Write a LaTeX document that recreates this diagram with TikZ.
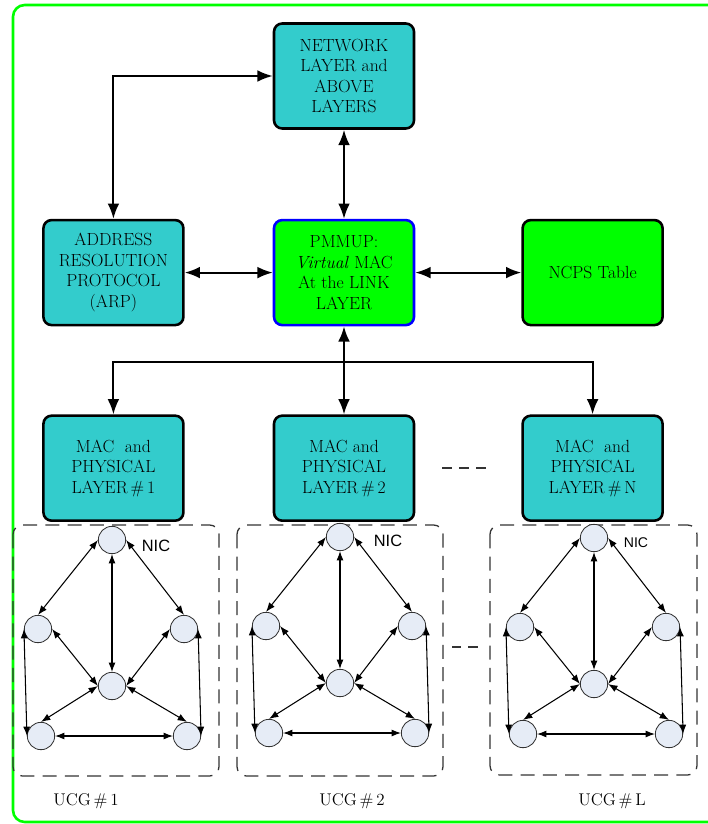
\documentclass[tikz,border=0pt]{standalone}
\usepackage{fontspec}
\newfontfamily\nicfont{Liberation Sans}
\usepackage{tikz}
\usetikzlibrary{arrows.meta,positioning}
\usepackage{xcolor}
\definecolor{pmteal}{RGB}{51,204,204}
\definecolor{pmgreen}{RGB}{0,255,0}
\definecolor{pmblue}{RGB}{0,0,255}
\definecolor{pmnode}{RGB}{230,236,246}
\definecolor{pmdash}{RGB}{51,51,51}
\tikzstyle{arrow} = [line width=1.7pt, {Latex[length=13pt,width=10pt]}-{Latex[length=13pt,width=10pt]}]
\tikzstyle{busarrow} = [line width=1.7pt, -{Latex[length=13pt,width=10pt]}]
\tikzstyle{layerbox} = [rectangle, rounded corners=7pt, minimum width=4.2cm, minimum height=3.15cm, align=center, draw=black, fill=pmteal, line width=2.2pt, font=\fontsize{15}{17.6}\selectfont]
\tikzstyle{nicnode} = [circle, minimum size=0.82cm, inner sep=0pt, draw=black!80, fill=pmnode, line width=0.7pt]
\tikzstyle{link} = [line width=0.9pt, {Latex[length=8pt,width=6pt]}-{Latex[length=8pt,width=6pt]}]
\tikzstyle{ucgframe} = [pmdash, line width=1.1pt, dash pattern=on 12pt off 7pt, rounded corners=8pt]
\tikzstyle{ucglabel} = [font=\fontsize{14.5}{17}\selectfont]

\begin{document}
\begin{tikzpicture}[x=0.03cm, y=-0.03cm]
\useasboundingbox (0,0) rectangle (707,824);
\draw[pmgreen, line width=2.2pt, rounded corners=10pt] (13,5) rectangle (740,822);

% Upper layers
\node (network) [layerbox] at (344,76) {NETWORK\\LAYER and\\ABOVE\\LAYERS};
\node (pmmup) [layerbox, below=2.67cm of network, fill=pmgreen, draw=pmblue] {PMMUP:\\\textit{Virtual} MAC\\At the LINK\\LAYER};
\node (arp) [layerbox, left=2.64cm of pmmup] {ADDRESS\\RESOLUTION\\PROTOCOL\\(ARP)};
\node (ncps) [layerbox, right=3.18cm of pmmup, fill=pmgreen] {NCPS Table};

% MAC and physical layers
\node (mac2) [layerbox, below=2.64cm of pmmup] {MAC and\\PHYSICAL\\LAYER\,\#\,2};
\node (mac1) [layerbox, left=2.64cm of mac2] {MAC\ \ and\\PHYSICAL\\LAYER\,\#\,1};
\node (macn) [layerbox, right=3.18cm of mac2] {MAC\ \ and\\PHYSICAL\\LAYER\,\#\,N};

\draw[arrow] (arp.north) |- (network.west);
\draw[arrow] (network) -- (pmmup);
\draw[arrow] (arp) -- (pmmup);
\draw[arrow] (pmmup) -- (ncps);
\draw[arrow] (pmmup) -- (mac2);
\coordinate (bus) at (344,362);
\draw[busarrow] (bus) -| (mac1);
\draw[busarrow] (bus) -| (macn);
\draw[pmdash, line width=1.4pt, dash pattern=on 8.5pt off 6pt] ([xshift=0.81cm]mac2.east) -- ([xshift=-1.02cm]macn.west);

% UCG frames
\draw[ucgframe] (13,525) rectangle (219,776);
\draw[ucgframe] (237,525) rectangle (443,776);
\draw[ucgframe] (490,525) rectangle (697,775);
\draw[pmdash, line width=1.2pt, dash pattern=on 8pt off 6pt] (452,647) -- (478,647);

% NICs of each UCG
\foreach \g/\gx/\gy/\nicx/\nicy/\nicsize in {a/0/0/156/546/14, b/228/-3/388/541/14, c/482/-2/636/543/12}{
  \begin{scope}[shift={(\gx,\gy)}]
    \node (\g-top) [nicnode] at (112,540) {};
    \node (\g-left) [nicnode] at (38,629) {};
    \node (\g-right) [nicnode] at (184,629) {};
    \node (\g-mid) [nicnode] at (112,686) {};
    \node (\g-bl) [nicnode] at (41,736) {};
    \node (\g-br) [nicnode] at (187,736) {};
  \end{scope}
  \node (\g-nic) [font=\nicfont\fontsize{\nicsize}{\nicsize}\selectfont] at (\nicx,\nicy) {NIC};
  \draw[link] (\g-top.west) -- (\g-left.north);
  \draw[link] (\g-top.east) -- (\g-right.north);
  \draw[link] (\g-top) -- (\g-mid);
  \draw[link] (\g-left.east) -- (\g-mid.west);
  \draw[link] (\g-right.west) -- (\g-mid.east);
  \draw[link] (\g-mid.west) -- (\g-bl.north);
  \draw[link] (\g-mid.east) -- (\g-br.north);
  \draw[link] (\g-bl) -- (\g-br);
  \draw[link] (\g-left.west) -- (\g-bl.west);
  \draw[link] (\g-right.east) -- (\g-br.east);
}

\node (ucg1) [ucglabel] at (86,801) {UCG\,\#\,1};
\node (ucg2) [ucglabel] at (352,801) {UCG\,\#\,2};
\node (ucgl) [ucglabel] at (612,801) {UCG\,\#\,L};
\end{tikzpicture}
\end{document}
